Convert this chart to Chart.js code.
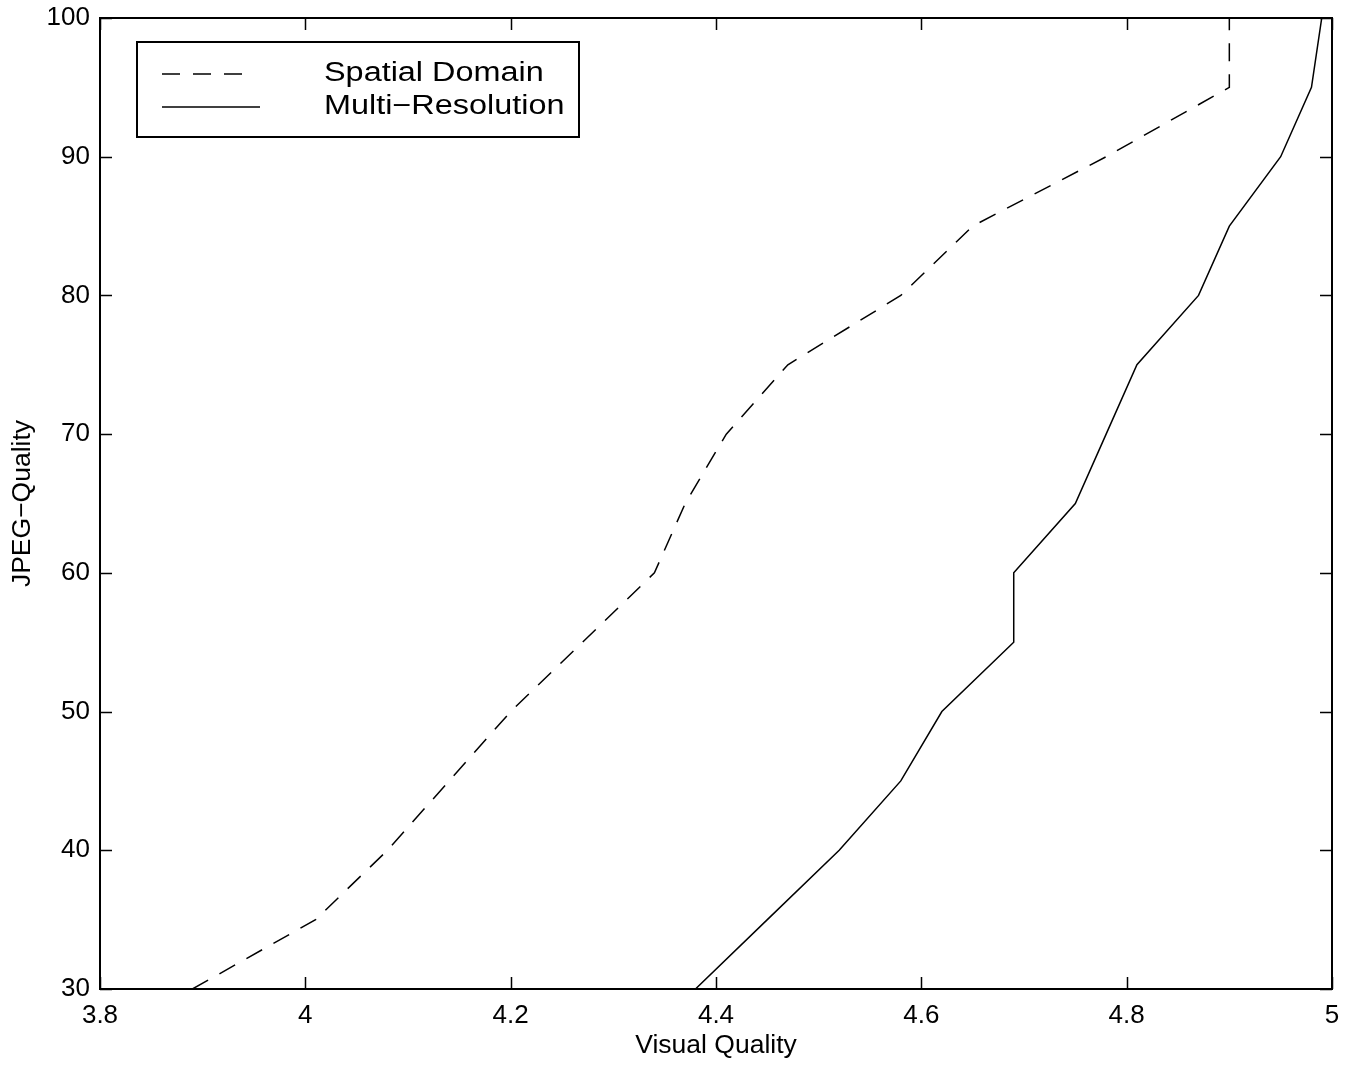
<!DOCTYPE html>
<html><head><meta charset="utf-8">
<script src="https://cdn.jsdelivr.net/npm/chart.js@4"></script>
<style>html,body{margin:0;padding:0;background:#fff;} #c{display:block;}</style>
</head><body>
<canvas id="c" width="1355" height="1068"></canvas>
<script>
const jpegQuality = [30, 35, 40, 45, 50, 55, 60, 65, 70, 75, 80, 85, 90, 95, 100];
const spatialDomain = [3.89, 4.01, 4.08, 4.14, 4.20, 4.27, 4.34, 4.37, 4.41, 4.47, 4.58, 4.65, 4.78, 4.90, 4.90];
const multiResolution = [4.38, 4.45, 4.52, 4.58, 4.62, 4.69, 4.69, 4.75, 4.78, 4.81, 4.87, 4.90, 4.95, 4.98, 4.99];
const seriesLabels = ['Spatial Domain', 'Multi\u2212Resolution'];
const xTickLabels = ['3.8', '4', '4.2', '4.4', '4.6', '4.8', '5'];
const yTickLabels = ['30', '40', '50', '60', '70', '80', '90', '100'];
const xTitle = 'Visual Quality';
const yTitle = 'JPEG\u2212Quality';

const FONT = "'Liberation Sans', Arial, Helvetica, sans-serif";

const framePlugin = {
  id: 'frame',
  afterDraw(chart) {
    const {ctx, chartArea: a, scales: {x, y}} = chart;
    ctx.save();
    ctx.strokeStyle = '#000';
    ctx.lineWidth = 1.5;
    ctx.beginPath();
    x.ticks.forEach(t => {
      const px = Math.round(x.getPixelForValue(t.value)) + 0.5;
      ctx.moveTo(px, a.bottom); ctx.lineTo(px, a.bottom - 12);
      ctx.moveTo(px, a.top); ctx.lineTo(px, a.top + 12);
    });
    y.ticks.forEach(t => {
      const py = Math.round(y.getPixelForValue(t.value)) + 0.5;
      ctx.moveTo(a.left, py); ctx.lineTo(a.left + 12, py);
      ctx.moveTo(a.right, py); ctx.lineTo(a.right - 12, py);
    });
    ctx.stroke();
    ctx.lineWidth = 2;
    ctx.strokeRect(a.left, a.top, a.right - a.left, a.bottom - a.top);

    // legend box
    const bx = a.left + 37, by = a.top + 24, bw = 442, bh = 95;
    ctx.fillStyle = '#fff';
    ctx.fillRect(bx, by, bw, bh);
    ctx.lineWidth = 2;
    ctx.strokeRect(bx, by, bw, bh);
    const rows = [32, 65];
    chart.data.datasets.forEach((ds, i) => {
      const ly = by + rows[i];
      const dashed = ds.borderDash && ds.borderDash.length;
      ctx.save();
      ctx.lineWidth = ds.borderWidth;
      ctx.strokeStyle = ds.borderColor;
      ctx.setLineDash(ds.borderDash || []);
      ctx.beginPath();
      ctx.moveTo(bx + 25, ly);
      ctx.lineTo(bx + (dashed ? 108 : 123), ly);
      ctx.stroke();
      ctx.restore();
      ctx.save();
      ctx.fillStyle = '#000';
      ctx.font = '27px ' + FONT;
      ctx.textBaseline = 'alphabetic';
      ctx.translate(bx + 187, ly + 7);
      ctx.scale(1.2, 1);
      ctx.fillText(ds.label, 0, 0);
      ctx.restore();
    });
    ctx.restore();
  }
};

new Chart(document.getElementById('c'), {
  type: 'line',
  data: {
    datasets: [
      {
        label: seriesLabels[0],
        data: spatialDomain.map((v, i) => ({x: v, y: jpegQuality[i]})),
        borderColor: '#000', borderWidth: 1.5, borderDash: [18, 13],
        pointRadius: 0, tension: 0, fill: false
      },
      {
        label: seriesLabels[1],
        data: multiResolution.map((v, i) => ({x: v, y: jpegQuality[i]})),
        borderColor: '#000', borderWidth: 1.5,
        pointRadius: 0, tension: 0, fill: false
      }
    ]
  },
  options: {
    responsive: false,
    animation: false,
    devicePixelRatio: 1,
    layout: {padding: {top: 18, right: 23, left: 0, bottom: 0}},
    plugins: {legend: {display: false}, tooltip: {enabled: false}},
    scales: {
      x: {
        type: 'linear', min: 3.8, max: 5,
        afterFit: s => { s.height = 79; s.paddingLeft = 0; s.paddingRight = 0; },
        grid: {display: false, drawTicks: false}, border: {display: false},
        ticks: {
          stepSize: 0.2, padding: 11, color: '#000', maxRotation: 0, autoSkip: false,
          font: {family: FONT, size: 26},
          callback: (v, i) => xTickLabels[i]
        },
        title: {display: true, text: xTitle, color: '#000', font: {family: FONT, size: 26.5}, padding: {top: 0, bottom: 6}}
      },
      y: {
        type: 'linear', min: 30, max: 100,
        afterFit: s => { s.width = 100; s.paddingTop = 0; s.paddingBottom = 0; },
        grid: {display: false, drawTicks: false}, border: {display: false},
        ticks: {
          stepSize: 10, padding: 10, color: '#000', autoSkip: false,
          font: {family: FONT, size: 26},
          callback: (v, i) => yTickLabels[i]
        },
        title: {display: true, text: yTitle, color: '#000', font: {family: FONT, size: 26.5}, padding: {top: 7, bottom: 0}}
      }
    }
  },
  plugins: [framePlugin]
});
</script>
</body></html>
